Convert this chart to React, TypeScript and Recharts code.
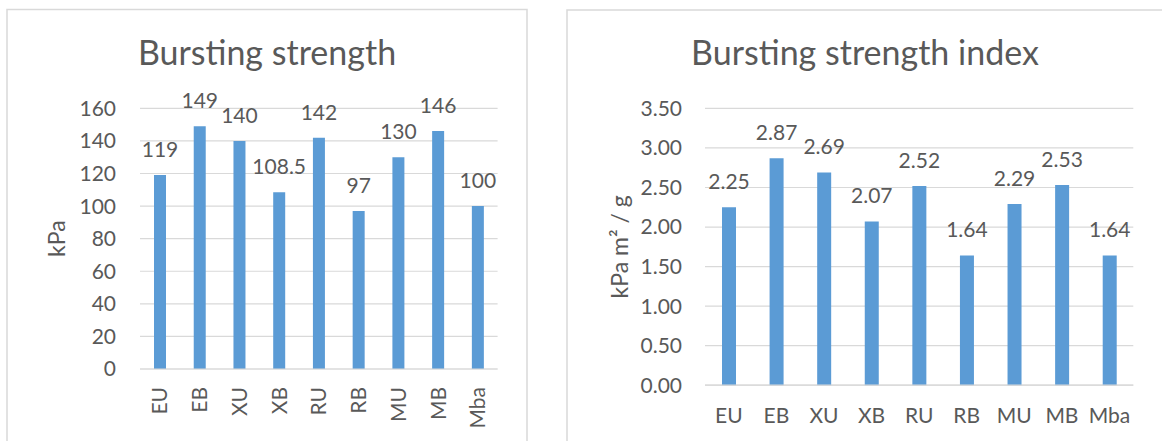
import React from 'react';
import { BarChart, Bar, XAxis, YAxis, CartesianGrid, LabelList, Label } from 'recharts';

// Sample codes shared by both panels
const categories = ['EU', 'EB', 'XU', 'XB', 'RU', 'RB', 'MU', 'MB', 'Mba'];
// Bursting strength, kPa
const burstingStrength = [119, 149, 140, 108.5, 142, 97, 130, 146, 100];
// Bursting strength index, kPa m² / g
const burstingIndex = [2.25, 2.87, 2.69, 2.07, 2.52, 1.64, 2.29, 2.53, 1.64];

const strengthTicks = [0, 20, 40, 60, 80, 100, 120, 140, 160];
const indexTicks = [0, 0.5, 1, 1.5, 2, 2.5, 3, 3.5];

const strengthData = categories.map((name, i) => ({ name, value: burstingStrength[i] }));
const indexData = categories.map((name, i) => ({ name, value: burstingIndex[i] }));

const FONT = 'Lato, "Open Sans", sans-serif';
const TEXT = '#595959';
const GRID = '#D9D9D9';
const BAR = '#5B9BD5';

const tickStyle = { fill: TEXT, fontSize: 21, fontFamily: FONT };

// Category labels standing upright beneath the left chart
const RotatedTick = (props: any) => {
  const { x, y, payload } = props;
  return (
    <text
      x={x}
      y={y}
      transform={`rotate(-90, ${x}, ${y})`}
      textAnchor="end"
      dy="0.36em"
      fill={TEXT}
      fontSize={21}
      fontFamily={FONT}
    >
      {payload.value}
    </text>
  );
};

export default function App() {
  return (
    <div
      style={{
        position: 'absolute',
        left: 0,
        top: 0,
        width: 1162,
        height: 441,
        background: '#fff',
        overflow: 'hidden',
      }}
    >
      {/* Panel frames and titles */}
      <svg width={1162} height={441} style={{ position: 'absolute', left: 0, top: 0 }}>
        <rect x={7} y={9.5} width={520} height={450} fill="#fff" stroke={GRID} strokeWidth={1.5} />
        <rect x={567} y={10} width={610} height={450} fill="#fff" stroke={GRID} strokeWidth={1.5} />
        <text x={267} y={65} textAnchor="middle" fill={TEXT} fontSize={34} fontFamily={FONT}>
          Bursting strength
        </text>
        <text x={865} y={65} textAnchor="middle" fill={TEXT} fontSize={34} fontFamily={FONT}>
          Bursting strength index
        </text>
      </svg>

      {/* Left panel: bursting strength */}
      <div style={{ position: 'absolute', left: 0, top: 0 }}>
        <BarChart
          width={528}
          height={441}
          data={strengthData}
          margin={{ top: 108.3, right: 30.4, bottom: 12, left: 0 }}
          barSize={12}
        >
          <CartesianGrid vertical={false} stroke={GRID} strokeWidth={1.2} />
          <XAxis
            dataKey="name"
            height={60}
            axisLine={{ stroke: GRID, strokeWidth: 1.2 }}
            tickLine={false}
            tickSize={0}
            tickMargin={18}
            interval={0}
            tick={<RotatedTick />}
          />
          <YAxis
            width={140}
            domain={[0, 160]}
            ticks={strengthTicks}
            axisLine={false}
            tickLine={false}
            tickSize={0}
            tickMargin={24}
            tick={tickStyle}
          >
            <Label
              value="kPa"
              angle={-90}
              position="insideLeft"
              offset={57}
              textAnchor="middle"
              fill={TEXT}
              fontSize={23}
              fontFamily={FONT}
            />
          </YAxis>
          <Bar dataKey="value" fill={BAR} isAnimationActive={false}>
            <LabelList
              dataKey="value"
              position="top"
              offset={18}
              fill={TEXT}
              fontSize={21}
              fontFamily={FONT}
            />
          </Bar>
        </BarChart>
      </div>

      {/* Right panel: bursting strength index */}
      <div style={{ position: 'absolute', left: 566, top: 0 }}>
        <BarChart
          width={596}
          height={441}
          data={indexData}
          margin={{ top: 108.4, right: 28.7, bottom: 15.8, left: 0 }}
          barSize={14}
        >
          <CartesianGrid vertical={false} stroke={GRID} strokeWidth={1.2} />
          <XAxis
            dataKey="name"
            height={40}
            axisLine={{ stroke: GRID, strokeWidth: 1.2 }}
            tickLine={false}
            tickSize={0}
            tickMargin={23}
            interval={0}
            tick={tickStyle}
          />
          <YAxis
            width={139}
            domain={[0, 3.5]}
            ticks={indexTicks}
            axisLine={false}
            tickLine={false}
            tickSize={0}
            tickMargin={23}
            tick={tickStyle}
            tickFormatter={(v: number) => v.toFixed(2)}
          >
            <Label
              value="kPa m² / g"
              angle={-90}
              position="insideLeft"
              offset={54}
              textAnchor="middle"
              fill={TEXT}
              fontSize={23}
              fontFamily={FONT}
            />
          </YAxis>
          <Bar dataKey="value" fill={BAR} isAnimationActive={false}>
            <LabelList
              dataKey="value"
              position="top"
              offset={18}
              fill={TEXT}
              fontSize={21}
              fontFamily={FONT}
              formatter={(v: any) => Number(v).toFixed(2)}
            />
          </Bar>
        </BarChart>
      </div>
    </div>
  );
}
